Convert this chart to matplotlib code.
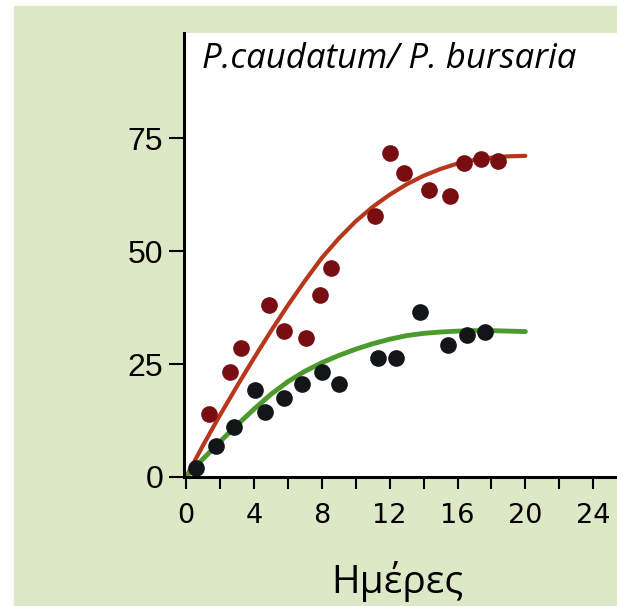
import numpy as np
import matplotlib.pyplot as plt
from matplotlib.patches import Rectangle

# P. caudatum (red dots) and P. bursaria (black dots)
red_days = [1.36, 2.58, 3.26, 4.9, 5.76, 7.06, 7.89, 8.52, 11.15, 12.04, 12.86, 14.3, 15.54, 16.4, 17.39, 18.37]
red_vals = [13.9, 23.3, 28.5, 38.1, 32.4, 30.7, 40.3, 46.2, 57.8, 71.7, 67.2, 63.6, 62.2, 69.5, 70.3, 70.0]
black_days = [0.57, 1.79, 2.81, 4.09, 4.64, 5.76, 6.84, 8.02, 9.01, 11.33, 12.37, 13.79, 15.46, 16.58, 17.62]
black_vals = [1.9, 6.9, 11.1, 19.3, 14.5, 17.4, 20.6, 23.2, 20.5, 26.3, 26.3, 36.6, 29.2, 31.4, 32.2]

# fitted curves, one value per day
curve_days = list(range(21))
red_curve = [0, 7.0, 13.7, 20.1, 26.3, 32.3, 38.0, 43.4, 48.5, 52.8, 56.6, 59.8, 62.5,
             64.8, 66.7, 68.2, 69.4, 70.2, 70.7, 71.0, 71.1]
green_curve = [0, 4.0, 7.8, 11.5, 15.0, 18.3, 21.1, 23.4, 25.3, 26.9, 28.3, 29.5, 30.5,
               31.3, 31.8, 32.1, 32.3, 32.4, 32.4, 32.3, 32.2]

x_ticks = list(range(0, 25, 2))
x_labels = [str(d) if d % 4 == 0 else '' for d in x_ticks]
y_ticks = [0, 25, 50, 75]

W, H = 617, 606
fig = plt.figure(figsize=(W / 100, H / 100), dpi=100, facecolor='white')
fig.patches.append(Rectangle((14 / W, 0), 1, 1 - 6 / H, transform=fig.transFigure,
                             color='#dde8c6', zorder=-10))

ax = fig.add_axes([183.5 / W, 1 - 477 / H, 1 - 183.5 / W, (477 - 33) / H])
ax.set_facecolor('white')

ax.plot(curve_days, red_curve, color='#b8361c', lw=3, solid_capstyle='round', zorder=2)
ax.plot(curve_days, green_curve, color='#4d9a2c', lw=3.5, solid_capstyle='round', zorder=2)
ax.plot(red_days, red_vals, 'o', color='#780d12', ms=12, mec='none', zorder=3, clip_on=False)
ax.plot(black_days, black_vals, 'o', color='#121619', ms=12, mec='none', zorder=3, clip_on=False)

ax.set_xlim(-0.15, 25.4)
ax.set_ylim(0, 98.3)

for s in ['top', 'right']:
    ax.spines[s].set_visible(False)
for s in ['left', 'bottom']:
    ax.spines[s].set_linewidth(2.2)
    ax.spines[s].set_zorder(4)

ax.set_xticks(x_ticks)
ax.set_xticklabels(x_labels, fontsize=19.5, family='DejaVu Sans')
ax.set_yticks(y_ticks)
ax.set_yticklabels([str(v) for v in y_ticks], fontsize=23, family='Liberation Sans')
ax.tick_params(axis='x', length=8.5, width=1.5, pad=10)
ax.tick_params(axis='y', length=11, width=1.5, pad=3.5)

fig.text(202 / W, 1 - 68 / H, 'P.caudatum/ P. bursaria', fontsize=25, style='italic',
         family='Open Sans', va='baseline', ha='left')
fig.text(397 / W, 1 - 593 / H, 'Ημέρες', fontsize=28, family='Open Sans',
         va='baseline', ha='center')

fig.savefig('out.png', dpi=100)
